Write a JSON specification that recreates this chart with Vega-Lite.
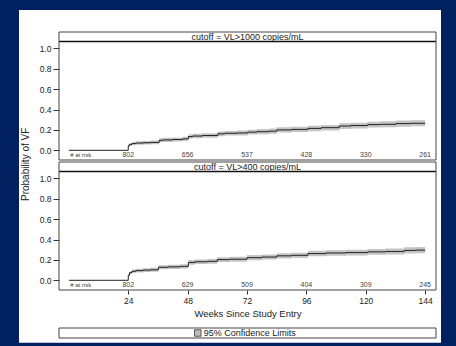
{
  "$schema": "https://vega.github.io/schema/vega-lite/v6.json",
  "background": "#002060",
  "padding": {"left": 18, "top": 10, "right": 16, "bottom": 3},
  "title": {"text": "Probability of VF", "orient": "left", "anchor": "middle", "offset": -12, "dx": 12, "fontSize": 10, "fontWeight": "normal", "color": "#222", "font": "Liberation Sans"},
  "config": {
    "font": "Liberation Sans",
    "view": {"stroke": null},
    "axis": {"grid": false, "domain": false, "labelFont": "Liberation Sans", "labelFontSize": 8.5, "labelColor": "#222", "tickColor": "#333", "titleFont": "Liberation Sans", "titleFontWeight": "normal", "titleFontSize": 9.5, "titleColor": "#222"}
  },
  "datasets": {
    "blank": [{}],
    "curves": [
      {"cutoff": "1000", "week": 0, "p": 0, "lo": 0, "hi": 0},
      {"cutoff": "1000", "week": 24, "p": 0.045, "lo": 0.033, "hi": 0.057},
      {"cutoff": "1000", "week": 24.5, "p": 0.058, "lo": 0.044, "hi": 0.072},
      {"cutoff": "1000", "week": 25.5, "p": 0.066, "lo": 0.05, "hi": 0.082},
      {"cutoff": "1000", "week": 27, "p": 0.071, "lo": 0.054, "hi": 0.088},
      {"cutoff": "1000", "week": 30, "p": 0.074, "lo": 0.056, "hi": 0.092},
      {"cutoff": "1000", "week": 33, "p": 0.077, "lo": 0.059, "hi": 0.095},
      {"cutoff": "1000", "week": 36.5, "p": 0.098, "lo": 0.078, "hi": 0.118},
      {"cutoff": "1000", "week": 38, "p": 0.102, "lo": 0.082, "hi": 0.122},
      {"cutoff": "1000", "week": 42, "p": 0.106, "lo": 0.086, "hi": 0.126},
      {"cutoff": "1000", "week": 46, "p": 0.112, "lo": 0.091, "hi": 0.133},
      {"cutoff": "1000", "week": 48.3, "p": 0.135, "lo": 0.113, "hi": 0.157},
      {"cutoff": "1000", "week": 50, "p": 0.14, "lo": 0.118, "hi": 0.162},
      {"cutoff": "1000", "week": 54, "p": 0.145, "lo": 0.123, "hi": 0.167},
      {"cutoff": "1000", "week": 60.2, "p": 0.162, "lo": 0.139, "hi": 0.185},
      {"cutoff": "1000", "week": 63, "p": 0.167, "lo": 0.144, "hi": 0.19},
      {"cutoff": "1000", "week": 68, "p": 0.17, "lo": 0.146, "hi": 0.194},
      {"cutoff": "1000", "week": 72.3, "p": 0.178, "lo": 0.154, "hi": 0.202},
      {"cutoff": "1000", "week": 76, "p": 0.183, "lo": 0.158, "hi": 0.208},
      {"cutoff": "1000", "week": 81, "p": 0.188, "lo": 0.163, "hi": 0.213},
      {"cutoff": "1000", "week": 84, "p": 0.2, "lo": 0.174, "hi": 0.226},
      {"cutoff": "1000", "week": 90, "p": 0.205, "lo": 0.179, "hi": 0.231},
      {"cutoff": "1000", "week": 96.6, "p": 0.215, "lo": 0.188, "hi": 0.242},
      {"cutoff": "1000", "week": 102, "p": 0.222, "lo": 0.195, "hi": 0.249},
      {"cutoff": "1000", "week": 109.3, "p": 0.238, "lo": 0.21, "hi": 0.266},
      {"cutoff": "1000", "week": 114, "p": 0.243, "lo": 0.215, "hi": 0.271},
      {"cutoff": "1000", "week": 120.8, "p": 0.252, "lo": 0.223, "hi": 0.281},
      {"cutoff": "1000", "week": 126, "p": 0.255, "lo": 0.226, "hi": 0.284},
      {"cutoff": "1000", "week": 132.2, "p": 0.262, "lo": 0.232, "hi": 0.292},
      {"cutoff": "1000", "week": 138, "p": 0.265, "lo": 0.235, "hi": 0.295},
      {"cutoff": "1000", "week": 144, "p": 0.266, "lo": 0.236, "hi": 0.296},
      {"cutoff": "400", "week": 0, "p": 0, "lo": 0, "hi": 0},
      {"cutoff": "400", "week": 24, "p": 0.05, "lo": 0.038, "hi": 0.062},
      {"cutoff": "400", "week": 24.5, "p": 0.075, "lo": 0.06, "hi": 0.09},
      {"cutoff": "400", "week": 25.5, "p": 0.088, "lo": 0.071, "hi": 0.105},
      {"cutoff": "400", "week": 27, "p": 0.095, "lo": 0.077, "hi": 0.113},
      {"cutoff": "400", "week": 30, "p": 0.1, "lo": 0.082, "hi": 0.118},
      {"cutoff": "400", "week": 33, "p": 0.103, "lo": 0.084, "hi": 0.122},
      {"cutoff": "400", "week": 36.2, "p": 0.128, "lo": 0.108, "hi": 0.148},
      {"cutoff": "400", "week": 40, "p": 0.132, "lo": 0.112, "hi": 0.152},
      {"cutoff": "400", "week": 45, "p": 0.137, "lo": 0.116, "hi": 0.158},
      {"cutoff": "400", "week": 48.3, "p": 0.175, "lo": 0.152, "hi": 0.198},
      {"cutoff": "400", "week": 51, "p": 0.182, "lo": 0.159, "hi": 0.205},
      {"cutoff": "400", "week": 56, "p": 0.186, "lo": 0.163, "hi": 0.209},
      {"cutoff": "400", "week": 60, "p": 0.203, "lo": 0.179, "hi": 0.227},
      {"cutoff": "400", "week": 65, "p": 0.207, "lo": 0.183, "hi": 0.231},
      {"cutoff": "400", "week": 72, "p": 0.222, "lo": 0.197, "hi": 0.247},
      {"cutoff": "400", "week": 78, "p": 0.228, "lo": 0.203, "hi": 0.253},
      {"cutoff": "400", "week": 84, "p": 0.24, "lo": 0.214, "hi": 0.266},
      {"cutoff": "400", "week": 90, "p": 0.245, "lo": 0.219, "hi": 0.271},
      {"cutoff": "400", "week": 96.6, "p": 0.262, "lo": 0.235, "hi": 0.289},
      {"cutoff": "400", "week": 104, "p": 0.268, "lo": 0.241, "hi": 0.295},
      {"cutoff": "400", "week": 112, "p": 0.272, "lo": 0.244, "hi": 0.3},
      {"cutoff": "400", "week": 120.8, "p": 0.279, "lo": 0.251, "hi": 0.307},
      {"cutoff": "400", "week": 128, "p": 0.283, "lo": 0.254, "hi": 0.312},
      {"cutoff": "400", "week": 135.6, "p": 0.293, "lo": 0.263, "hi": 0.323},
      {"cutoff": "400", "week": 140, "p": 0.296, "lo": 0.266, "hi": 0.326},
      {"cutoff": "400", "week": 144, "p": 0.297, "lo": 0.267, "hi": 0.327}
    ],
    "risk": [
      {"cutoff": "1000", "week": 24, "n": 802},
      {"cutoff": "1000", "week": 48, "n": 656},
      {"cutoff": "1000", "week": 72, "n": 537},
      {"cutoff": "1000", "week": 96, "n": 428},
      {"cutoff": "1000", "week": 120, "n": 330},
      {"cutoff": "1000", "week": 144, "n": 261},
      {"cutoff": "400", "week": 24, "n": 802},
      {"cutoff": "400", "week": 48, "n": 629},
      {"cutoff": "400", "week": 72, "n": 509},
      {"cutoff": "400", "week": 96, "n": 404},
      {"cutoff": "400", "week": 120, "n": 309},
      {"cutoff": "400", "week": 144, "n": 245}
    ],
    "riskLabel": [{"label": "# at risk"}],
    "headers": [
      {"cutoff": "1000", "label": "cutoff = VL>1000 copies/mL"},
      {"cutoff": "400", "label": "cutoff = VL>400 copies/mL"}
    ],
    "legend": [{"label": "95% Confidence Limits"}]
  },
  "vconcat": [
    {
      "width": 377, "height": 128,
      "layer": [
        {"data": {"name": "blank"}, "mark": {"type": "rect", "fill": "white"},
         "encoding": {
           "x": {"datum": -20.17, "type": "quantitative", "scale": {"domain": [-4, 148.4], "nice": false, "zero": false}, "axis": null},
           "x2": {"datum": 150.42},
           "y": {"datum": 1.3757, "type": "quantitative", "scale": {"domain": [-0.095, 1.16], "nice": false, "zero": false}, "axis": {"zindex": 1, "values": [0, 0.2, 0.4, 0.6, 0.8, 1.0], "format": ".1f", "title": null, "tickSize": 6, "labelPadding": 2}},
           "y2": {"datum": -0.1048}}},
        {"data": {"name": "curves"}, "transform": [{"filter": "datum.cutoff == '1000'"}],
         "mark": {"type": "area", "interpolate": "step-after", "fill": "#c4c4c4"},
         "encoding": {
           "x": {"field": "week", "type": "quantitative", "scale": {"domain": [-4, 148.4], "nice": false, "zero": false}, "axis": null},
           "y": {"field": "lo", "type": "quantitative", "scale": {"domain": [-0.095, 1.16], "nice": false, "zero": false}, "axis": {"zindex": 1, "values": [0, 0.2, 0.4, 0.6, 0.8, 1.0], "format": ".1f", "title": null, "tickSize": 6, "labelPadding": 2}},
           "y2": {"field": "hi"}}},
        {"data": {"name": "curves"}, "transform": [{"filter": "datum.cutoff == '1000'"}],
         "mark": {"type": "line", "interpolate": "step-after", "stroke": "#222", "strokeWidth": 1},
         "encoding": {
           "x": {"field": "week", "type": "quantitative", "scale": {"domain": [-4, 148.4], "nice": false, "zero": false}, "axis": null},
           "y": {"field": "p", "type": "quantitative", "scale": {"domain": [-0.095, 1.16], "nice": false, "zero": false}, "axis": {"zindex": 1, "values": [0, 0.2, 0.4, 0.6, 0.8, 1.0], "format": ".1f", "title": null, "tickSize": 6, "labelPadding": 2}}}},
        {"data": {"name": "risk"}, "transform": [{"filter": "datum.cutoff == '1000'"}],
         "mark": {"type": "text", "fontSize": 7, "color": "#444", "baseline": "middle"},
         "encoding": {
           "x": {"field": "week", "type": "quantitative", "scale": {"domain": [-4, 148.4], "nice": false, "zero": false}, "axis": null},
           "y": {"datum": -0.05, "type": "quantitative", "scale": {"domain": [-0.095, 1.16], "nice": false, "zero": false}, "axis": {"zindex": 1, "values": [0, 0.2, 0.4, 0.6, 0.8, 1.0], "format": ".1f", "title": null, "tickSize": 6, "labelPadding": 2}},
           "text": {"field": "n", "type": "quantitative"}}},
        {"data": {"name": "riskLabel"},
         "mark": {"type": "text", "fontSize": 6, "color": "#444", "align": "left", "baseline": "middle"},
         "encoding": {
           "x": {"datum": 0.5, "type": "quantitative", "scale": {"domain": [-4, 148.4], "nice": false, "zero": false}, "axis": null},
           "y": {"datum": -0.05, "type": "quantitative", "scale": {"domain": [-0.095, 1.16], "nice": false, "zero": false}, "axis": {"zindex": 1, "values": [0, 0.2, 0.4, 0.6, 0.8, 1.0], "format": ".1f", "title": null, "tickSize": 6, "labelPadding": 2}},
           "text": {"field": "label"}}},
        {"data": {"name": "blank"},
         "mark": {"type": "rule", "stroke": "#111", "strokeWidth": 1.5},
         "encoding": {
           "y": {"datum": 1.066, "type": "quantitative", "scale": {"domain": [-0.095, 1.16], "nice": false, "zero": false}, "axis": {"zindex": 1, "values": [0, 0.2, 0.4, 0.6, 0.8, 1.0], "format": ".1f", "title": null, "tickSize": 6, "labelPadding": 2}}}},
        {"data": {"name": "headers"}, "transform": [{"filter": "datum.cutoff == '1000'"}],
         "mark": {"type": "text", "fontSize": 9, "color": "#222", "baseline": "middle"},
         "encoding": {
           "x": {"datum": 72.2, "type": "quantitative", "scale": {"domain": [-4, 148.4], "nice": false, "zero": false}, "axis": null},
           "y": {"datum": 1.113, "type": "quantitative", "scale": {"domain": [-0.095, 1.16], "nice": false, "zero": false}, "axis": {"zindex": 1, "values": [0, 0.2, 0.4, 0.6, 0.8, 1.0], "format": ".1f", "title": null, "tickSize": 6, "labelPadding": 2}},
           "text": {"field": "label"}}},
        {"data": {"name": "blank"},
         "mark": {"type": "rect", "filled": false, "stroke": "#444", "strokeWidth": 1},
         "encoding": {
           "x": {"datum": -4, "type": "quantitative", "scale": {"domain": [-4, 148.4], "nice": false, "zero": false}, "axis": null},
           "x2": {"datum": 148.4},
           "y": {"datum": -0.095, "type": "quantitative", "scale": {"domain": [-0.095, 1.16], "nice": false, "zero": false}, "axis": {"zindex": 1, "values": [0, 0.2, 0.4, 0.6, 0.8, 1.0], "format": ".1f", "title": null, "tickSize": 6, "labelPadding": 2}},
           "y2": {"datum": 1.16}}}
      ]
    },
    {
      "width": 377, "height": 128,
      "layer": [
        {"data": {"name": "blank"}, "mark": {"type": "rect", "fill": "white"},
         "encoding": {
           "x": {"datum": -20.17, "type": "quantitative", "scale": {"domain": [-4, 148.4], "nice": false, "zero": false}, "axis": {"zindex": 1, "values": [24, 48, 72, 96, 120, 144], "title": "Weeks Since Study Entry", "tickSize": 4, "labelPadding": 2, "titlePadding": 4}},
           "x2": {"datum": 150.42},
           "y": {"datum": 1.1698, "type": "quantitative", "scale": {"domain": [-0.095, 1.16], "nice": false, "zero": false}, "axis": {"zindex": 1, "values": [0, 0.2, 0.4, 0.6, 0.8, 1.0], "format": ".1f", "title": null, "tickSize": 6, "labelPadding": 2}},
           "y2": {"datum": -0.4568}}},
        {"data": {"name": "curves"}, "transform": [{"filter": "datum.cutoff == '400'"}],
         "mark": {"type": "area", "interpolate": "step-after", "fill": "#c4c4c4"},
         "encoding": {
           "x": {"field": "week", "type": "quantitative", "scale": {"domain": [-4, 148.4], "nice": false, "zero": false}, "axis": {"zindex": 1, "values": [24, 48, 72, 96, 120, 144], "title": "Weeks Since Study Entry", "tickSize": 4, "labelPadding": 2, "titlePadding": 4}},
           "y": {"field": "lo", "type": "quantitative", "scale": {"domain": [-0.095, 1.16], "nice": false, "zero": false}, "axis": {"zindex": 1, "values": [0, 0.2, 0.4, 0.6, 0.8, 1.0], "format": ".1f", "title": null, "tickSize": 6, "labelPadding": 2}},
           "y2": {"field": "hi"}}},
        {"data": {"name": "curves"}, "transform": [{"filter": "datum.cutoff == '400'"}],
         "mark": {"type": "line", "interpolate": "step-after", "stroke": "#222", "strokeWidth": 1},
         "encoding": {
           "x": {"field": "week", "type": "quantitative", "scale": {"domain": [-4, 148.4], "nice": false, "zero": false}, "axis": {"zindex": 1, "values": [24, 48, 72, 96, 120, 144], "title": "Weeks Since Study Entry", "tickSize": 4, "labelPadding": 2, "titlePadding": 4}},
           "y": {"field": "p", "type": "quantitative", "scale": {"domain": [-0.095, 1.16], "nice": false, "zero": false}, "axis": {"zindex": 1, "values": [0, 0.2, 0.4, 0.6, 0.8, 1.0], "format": ".1f", "title": null, "tickSize": 6, "labelPadding": 2}}}},
        {"data": {"name": "risk"}, "transform": [{"filter": "datum.cutoff == '400'"}],
         "mark": {"type": "text", "fontSize": 7, "color": "#444", "baseline": "middle"},
         "encoding": {
           "x": {"field": "week", "type": "quantitative", "scale": {"domain": [-4, 148.4], "nice": false, "zero": false}, "axis": {"zindex": 1, "values": [24, 48, 72, 96, 120, 144], "title": "Weeks Since Study Entry", "tickSize": 4, "labelPadding": 2, "titlePadding": 4}},
           "y": {"datum": -0.05, "type": "quantitative", "scale": {"domain": [-0.095, 1.16], "nice": false, "zero": false}, "axis": {"zindex": 1, "values": [0, 0.2, 0.4, 0.6, 0.8, 1.0], "format": ".1f", "title": null, "tickSize": 6, "labelPadding": 2}},
           "text": {"field": "n", "type": "quantitative"}}},
        {"data": {"name": "riskLabel"},
         "mark": {"type": "text", "fontSize": 6, "color": "#444", "align": "left", "baseline": "middle"},
         "encoding": {
           "x": {"datum": 0.5, "type": "quantitative", "scale": {"domain": [-4, 148.4], "nice": false, "zero": false}, "axis": {"zindex": 1, "values": [24, 48, 72, 96, 120, 144], "title": "Weeks Since Study Entry", "tickSize": 4, "labelPadding": 2, "titlePadding": 4}},
           "y": {"datum": -0.05, "type": "quantitative", "scale": {"domain": [-0.095, 1.16], "nice": false, "zero": false}, "axis": {"zindex": 1, "values": [0, 0.2, 0.4, 0.6, 0.8, 1.0], "format": ".1f", "title": null, "tickSize": 6, "labelPadding": 2}},
           "text": {"field": "label"}}},
        {"data": {"name": "blank"},
         "mark": {"type": "rule", "stroke": "#111", "strokeWidth": 1.5},
         "encoding": {
           "y": {"datum": 1.066, "type": "quantitative", "scale": {"domain": [-0.095, 1.16], "nice": false, "zero": false}, "axis": {"zindex": 1, "values": [0, 0.2, 0.4, 0.6, 0.8, 1.0], "format": ".1f", "title": null, "tickSize": 6, "labelPadding": 2}}}},
        {"data": {"name": "headers"}, "transform": [{"filter": "datum.cutoff == '400'"}],
         "mark": {"type": "text", "fontSize": 9, "color": "#222", "baseline": "middle"},
         "encoding": {
           "x": {"datum": 72.2, "type": "quantitative", "scale": {"domain": [-4, 148.4], "nice": false, "zero": false}, "axis": {"zindex": 1, "values": [24, 48, 72, 96, 120, 144], "title": "Weeks Since Study Entry", "tickSize": 4, "labelPadding": 2, "titlePadding": 4}},
           "y": {"datum": 1.113, "type": "quantitative", "scale": {"domain": [-0.095, 1.16], "nice": false, "zero": false}, "axis": {"zindex": 1, "values": [0, 0.2, 0.4, 0.6, 0.8, 1.0], "format": ".1f", "title": null, "tickSize": 6, "labelPadding": 2}},
           "text": {"field": "label"}}},
        {"data": {"name": "blank"},
         "mark": {"type": "rect", "filled": false, "stroke": "#444", "strokeWidth": 1},
         "encoding": {
           "x": {"datum": -4, "type": "quantitative", "scale": {"domain": [-4, 148.4], "nice": false, "zero": false}, "axis": {"zindex": 1, "values": [24, 48, 72, 96, 120, 144], "title": "Weeks Since Study Entry", "tickSize": 4, "labelPadding": 2, "titlePadding": 4}},
           "x2": {"datum": 148.4},
           "y": {"datum": -0.095, "type": "quantitative", "scale": {"domain": [-0.095, 1.16], "nice": false, "zero": false}, "axis": {"zindex": 1, "values": [0, 0.2, 0.4, 0.6, 0.8, 1.0], "format": ".1f", "title": null, "tickSize": 6, "labelPadding": 2}},
           "y2": {"datum": 1.16}}}
      ]
    },
    {
      "width": 377, "height": 10,
      "layer": [
        {"data": {"name": "blank"}, "mark": {"type": "rect", "fill": "white"},
         "encoding": {
           "x": {"datum": -20.17, "type": "quantitative", "scale": {"domain": [-4, 148.4], "nice": false, "zero": false}, "axis": null},
           "x2": {"datum": 150.42},
           "y": {"datum": 1.098, "type": "quantitative", "scale": {"domain": [0, 1], "nice": false, "zero": false}, "axis": null},
           "y2": {"datum": -0.47}}},
        {"data": {"name": "legend"},
         "mark": {"type": "point", "shape": "square", "size": 42, "filled": true, "fill": "#bdbdbd", "stroke": "#333", "strokeWidth": 0.8, "opacity": 1},
         "encoding": {
           "x": {"datum": 52.1, "type": "quantitative", "scale": {"domain": [-4, 148.4], "nice": false, "zero": false}, "axis": null},
           "y": {"datum": 0.5, "type": "quantitative", "scale": {"domain": [0, 1], "nice": false, "zero": false}, "axis": null}}},
        {"data": {"name": "legend"},
         "mark": {"type": "text", "fontSize": 9, "color": "#222", "align": "left", "baseline": "middle"},
         "encoding": {
           "x": {"datum": 54.5, "type": "quantitative", "scale": {"domain": [-4, 148.4], "nice": false, "zero": false}, "axis": null},
           "y": {"datum": 0.5, "type": "quantitative", "scale": {"domain": [0, 1], "nice": false, "zero": false}, "axis": null},
           "text": {"field": "label"}}},
        {"data": {"name": "blank"},
         "mark": {"type": "rect", "filled": false, "stroke": "#444", "strokeWidth": 1},
         "encoding": {
           "x": {"datum": -4, "type": "quantitative", "scale": {"domain": [-4, 148.4], "nice": false, "zero": false}, "axis": null},
           "x2": {"datum": 148.4},
           "y": {"datum": 0, "type": "quantitative", "scale": {"domain": [0, 1], "nice": false, "zero": false}, "axis": null},
           "y2": {"datum": 1}}}
      ]
    }
  ],
  "spacing": 0
}
